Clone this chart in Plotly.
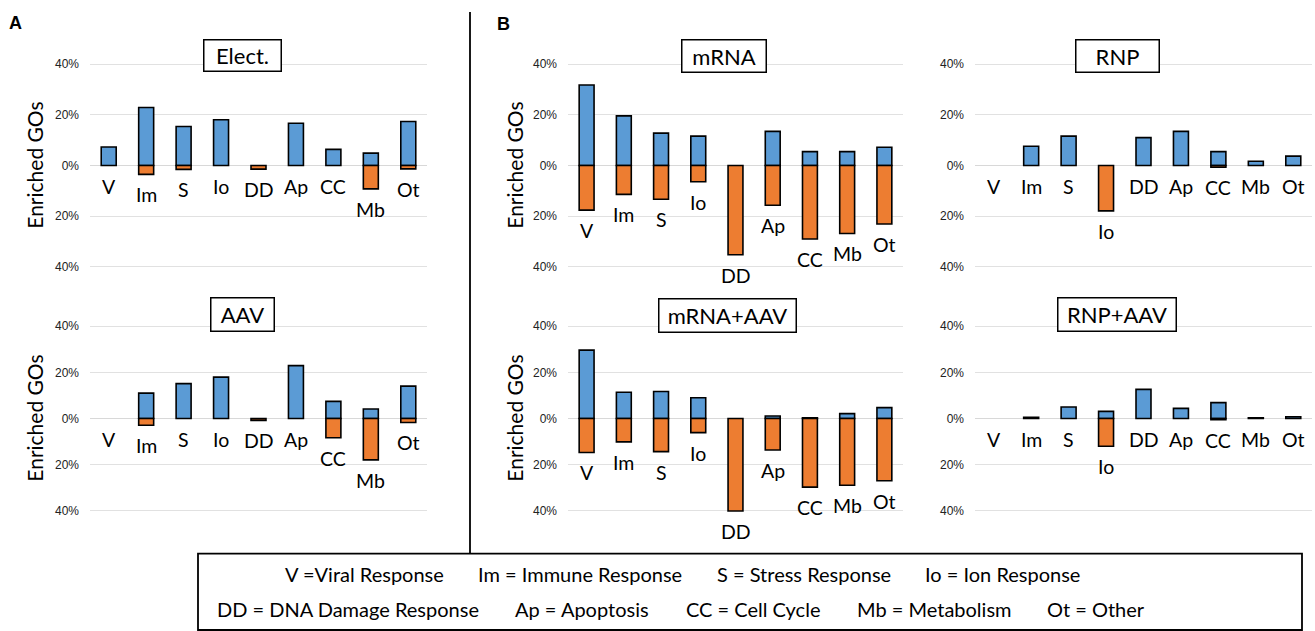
import plotly.graph_objects as go

W, H = 1315, 631

categories = ["V", "Im", "S", "Io", "DD", "Ap", "CC", "Mb", "Ot"]

# enriched GO percentages: up (blue) and down (orange, drawn below zero)
elect_up = [7.3, 22.9, 15.4, 18.1, 0, 16.7, 6.4, 4.9, 17.4]
elect_dn = [0, 3.5, 1.5, 0, 1.4, 0, 0, 9.2, 1.3]
aav_up = [0, 11.0, 15.1, 17.9, 0, 22.9, 7.4, 4.1, 14.0]
aav_dn = [0, 2.9, 0, 0, 0.8, 0, 8.3, 17.9, 1.7]
mrna_up = [31.8, 19.6, 12.8, 11.6, 0, 13.5, 5.5, 5.5, 7.2]
mrna_dn = [17.6, 11.4, 13.3, 6.4, 35.2, 15.7, 29.0, 26.8, 23.1]
rnp_up = [0, 7.6, 11.6, 0, 11.0, 13.5, 5.5, 1.7, 3.7]
rnp_dn = [0, 0, 0, 17.9, 0, 0, 0.7, 0, 0]
mrna_aav_up = [29.6, 11.4, 11.7, 9.0, 0, 1.1, 0.3, 2.1, 4.7]
mrna_aav_dn = [14.7, 10.1, 14.3, 6.1, 40.0, 13.6, 29.7, 28.9, 26.9]
rnp_aav_up = [0, 0.5, 5.0, 3.1, 12.6, 4.4, 6.9, 0.3, 0.8]
rnp_aav_dn = [0, 0, 0, 12.0, 0, 0, 0.5, 0, 0]

panel_titles = ["Elect.", "AAV", "mRNA", "RNP", "mRNA+AAV", "RNP+AAV"]
tick_vals = [-40, -20, 0, 20, 40]
tick_text = ["40%", "20%", "0%", "20%", "40%"]
legend_line1 = ["V =Viral Response", "Im = Immune Response", "S = Stress Response", "Io = Ion Response"]
legend_line2 = ["DD = DNA Damage Response", "Ap = Apoptosis", "CC = Cell Cycle", "Mb = Metabolism", "Ot = Other"]

BLUE = "#5B9BD5"
ORANGE = "#ED7D31"
FONT_CAT = "Lato"

def px_x(x):
    return x / W

def px_y(y):
    return 1 - y / H

col_dom = {
    "A": [px_x(90), px_x(427)],
    "B1": [px_x(568), px_x(903)],
    "B2": [px_x(975), px_x(1312)],
}
# row domains (range -42..42)
row_dom = {
    "top": [px_y(272.1), px_y(57.6)],
    "bot": [px_y(517.7), px_y(322.0)],
}

panels = [
    (panel_titles[0], elect_up, elect_dn, "A", "top", (242, 54, 80, 34)),
    (panel_titles[1], aav_up, aav_dn, "A", "bot", (242.5, 315, 66, 36)),
    (panel_titles[2], mrna_up, mrna_dn, "B1", "top", (723.5, 54, 87, 35)),
    (panel_titles[3], rnp_up, rnp_dn, "B2", "top", (1117, 54, 86, 35)),
    (panel_titles[4], mrna_aav_up, mrna_aav_dn, "B1", "bot", (727, 315.5, 140, 36)),
    (panel_titles[5], rnp_aav_up, rnp_aav_dn, "B2", "bot", (1117, 315, 121, 36)),
]

fig = go.Figure()
annotations = []
layout_axes = {}

for i, (title, up, dn, col, row, box) in enumerate(panels, start=1):
    xa = "x" if i == 1 else f"x{i}"
    ya = "y" if i == 1 else f"y{i}"
    up_vals = [v if v > 0 else None for v in up]
    dn_vals = [-v if v > 0 else None for v in dn]
    fig.add_trace(go.Bar(x=categories, y=up_vals, xaxis=xa, yaxis=ya,
                         marker=dict(color=BLUE, line=dict(color="black", width=1.6)),
                         width=0.4, showlegend=False, hoverinfo="skip"))
    fig.add_trace(go.Bar(x=categories, y=dn_vals, xaxis=xa, yaxis=ya,
                         marker=dict(color=ORANGE, line=dict(color="black", width=1.6)),
                         width=0.4, showlegend=False, hoverinfo="skip"))
    xkey = "xaxis" if i == 1 else f"xaxis{i}"
    ykey = "yaxis" if i == 1 else f"yaxis{i}"
    layout_axes[xkey] = dict(domain=col_dom[col], anchor=ya, type="category",
                             categoryorder="array", categoryarray=categories,
                             range=[-0.5, 8.5], showticklabels=False, showgrid=False,
                             zeroline=False, showline=False, fixedrange=True)
    layout_axes[ykey] = dict(domain=row_dom[row], anchor=xa, range=[-42, 42],
                             tickvals=tick_vals, ticktext=tick_text,
                             tickfont=dict(family="Liberation Sans, Arial", size=12, color="#222"),
                             showgrid=True, gridcolor="#e1e1e1", gridwidth=1,
                             zeroline=True, zerolinecolor="#d8d8d8", zerolinewidth=1,
                             showline=False, ticklabelstandoff=10, fixedrange=True)
    # category labels under each bar
    for c, u, d in zip(categories, up, dn):
        yb = -d if d > 0 else 0
        annotations.append(dict(x=c, y=yb, xref=xa, yref=ya, text=c, showarrow=False,
                                yanchor="top", xanchor="center", yshift=-7,
                                font=dict(family=FONT_CAT, size=19.5, color="black")))
    # panel title box
    cx, cy, bw, bh = box
    annotations.append(dict(x=px_x(cx), y=px_y(cy), xref="paper", yref="paper",
                            text=title, showarrow=False, xanchor="center", yanchor="middle",
                            width=bw - 4, height=bh - 4, bgcolor="white",
                            bordercolor="black", borderwidth=1.5, borderpad=0,
                            font=dict(family="Lato", size=22, color="black")))

# y-axis titles
for xp, yp in [(35, 165), (35, 420), (515, 165), (515, 420)]:
    annotations.append(dict(x=px_x(xp), y=px_y(yp), xref="paper", yref="paper",
                            text="Enriched GOs", textangle=-90, showarrow=False,
                            xanchor="center", yanchor="middle",
                            font=dict(family=FONT_CAT, size=21, color="black")))

# panel letters
annotations.append(dict(x=px_x(15), y=px_y(21), xref="paper", yref="paper", text="<b>A</b>",
                        showarrow=False, xanchor="center", yanchor="middle",
                        font=dict(family="Liberation Sans, Arial", size=18, color="black")))
annotations.append(dict(x=px_x(503), y=px_y(22), xref="paper", yref="paper", text="<b>B</b>",
                        showarrow=False, xanchor="center", yanchor="middle",
                        font=dict(family="Liberation Sans, Arial", size=18, color="black")))

# legend (abbreviation key)
line1_x = [283, 476, 715, 923]
line2_x = [215, 513, 684, 855, 1045]
for t, xp in zip(legend_line1, line1_x):
    annotations.append(dict(x=px_x(xp), y=px_y(577), xref="paper", yref="paper", text=t,
                            showarrow=False, xanchor="left", yanchor="middle",
                            font=dict(family=FONT_CAT, size=20, color="black")))
for t, xp in zip(legend_line2, line2_x):
    annotations.append(dict(x=px_x(xp), y=px_y(612), xref="paper", yref="paper", text=t,
                            showarrow=False, xanchor="left", yanchor="middle",
                            font=dict(family=FONT_CAT, size=20, color="black")))

shapes = [
    dict(type="line", xref="paper", yref="paper", x0=px_x(470), x1=px_x(470),
         y0=px_y(10), y1=px_y(556), line=dict(color="black", width=1.8)),
    dict(type="rect", xref="paper", yref="paper", x0=px_x(198), x1=px_x(1302),
         y0=px_y(633), y1=px_y(556), line=dict(color="black", width=1.8)),
]

fig.update_layout(width=W, height=H, margin=dict(l=0, r=0, t=0, b=0),
                  paper_bgcolor="white", plot_bgcolor="white",
                  barmode="relative", bargap=0.6,
                  annotations=annotations, shapes=shapes, **layout_axes)

fig.write_html("out.html", config={"displayModeBar": False})
